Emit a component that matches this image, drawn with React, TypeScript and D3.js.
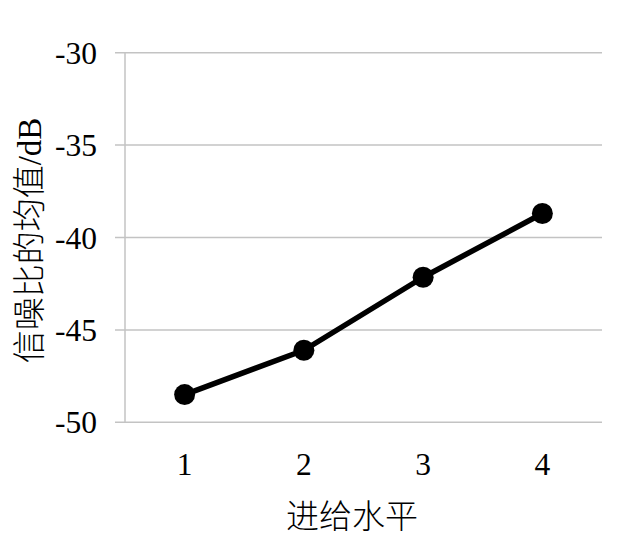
import React from "react";
import * as d3 from "d3";

const categories = ["1", "2", "3", "4"];
const values = [-48.5, -46.1, -42.15, -38.7];
const yTicks = [-50, -45, -40, -35, -30];
const xTitle = "进给水平";
const yTitle = "信噪比的均值/dB";

export default function App() {
  const W = 617, H = 544;
  const left = 125, right = 602, top = 52.7, bottom = 422.3;
  const x = d3.scaleBand<string>().domain(categories).range([left, right]);
  const y = d3.scaleLinear().domain([-50, -30]).range([bottom, top]);
  const pts: [number, number][] = values.map((v, i) => [x(categories[i])! + x.bandwidth() / 2, y(v)]);
  const line = d3.line()(pts)!;
  const serif = "'Liberation Serif', 'Times New Roman', serif";
  const cjk = "'Liberation Serif', 'Noto Sans CJK SC', serif";
  return (
    <svg width={W} height={H} style={{ position: "absolute", left: 0, top: 0, background: "#fff" }}>
      <rect x={0} y={0} width={W} height={H} fill="#fff" />
      {yTicks.map((t) => (
        <g key={t}>
          <line x1={left - 10} x2={right} y1={y(t)} y2={y(t)} stroke="#c3c3c3" strokeWidth={1.5} />
          <text x={97} y={y(t)} dy="0.35em" textAnchor="end" fontFamily={serif} fontSize={31.5} fill="#000">
            {t}
          </text>
        </g>
      ))}
      <line x1={left} x2={left} y1={top} y2={bottom} stroke="#c3c3c3" strokeWidth={1.5} />
      {categories.map((c) => (
        <text key={c} x={x(c)! + x.bandwidth() / 2} y={475} textAnchor="middle" fontFamily={serif} fontSize={31.5} fill="#000">
          {c}
        </text>
      ))}
      <path d={line} fill="none" stroke="#000" strokeWidth={5.5} strokeLinejoin="round" />
      {pts.map((p, i) => (
        <circle key={i} cx={p[0]} cy={p[1]} r={10.5} fill="#000" />
      ))}
      <text x={352} y={528} textAnchor="middle" fontFamily={cjk} fontSize={33} fontWeight={300} fill="#000">
        {xTitle}
      </text>
      <text
        transform={`translate(41, ${(top + bottom) / 2 + 3}) rotate(-90)`}
        textAnchor="middle"
        fontFamily={cjk}
        fontSize={33}
        fontWeight={300}
        fill="#000"
      >
        {yTitle}
      </text>
    </svg>
  );
}
